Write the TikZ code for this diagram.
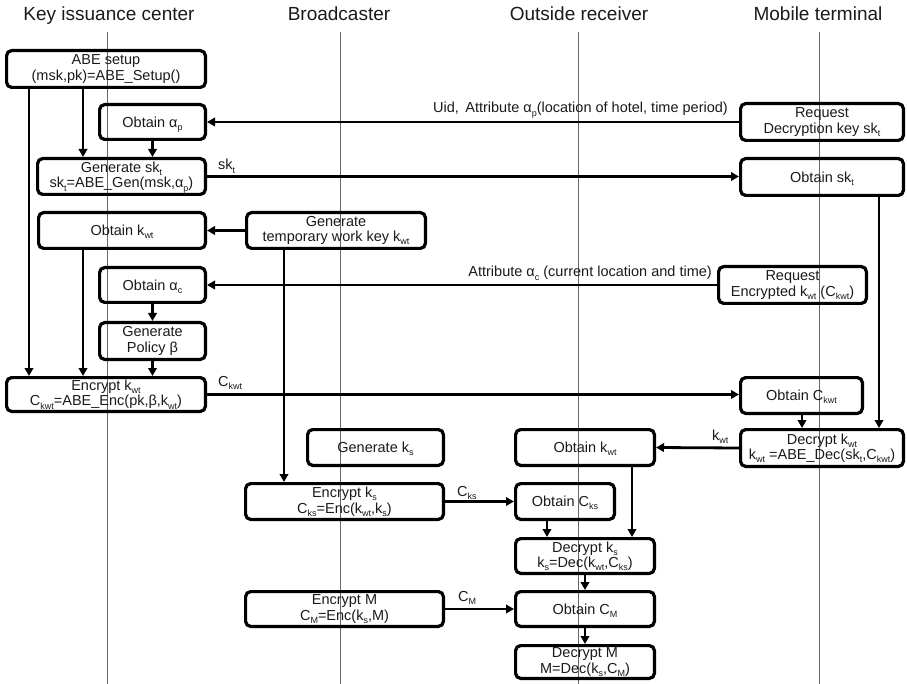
\documentclass[tikz,border=0pt]{standalone}
\usepackage{fontspec}
\setmainfont{Liberation Sans}
\usetikzlibrary{arrows.meta}
% lowered small index, as in k_wt (takes no room of its own)
\newcommand\sbs[1]{\raisebox{-0.4ex}[0pt][0pt]{\fontsize{9}{9}\selectfont #1}}
\definecolor{ink}{HTML}{1A1A1A}
\tikzset{
  x=1pt, y=-1pt,
  box/.style={draw=black, line width=3.2pt, rounded corners=5pt, align=center,
    inner sep=1pt, text=ink, font=\fontsize{14.5}{15.5}\selectfont},
  arr/.style={draw=black, line width=2.8pt, -{Triangle[length=8pt,width=8.5pt]}},
  lbl/.style={inner sep=0pt, text=ink, font=\fontsize{14.5}{15}\selectfont},
  head/.style={inner sep=0pt, text=ink, font=\fontsize{19}{21}\selectfont},
  life/.style={draw=black!60, line width=0.9pt}
}
% box at centre (cx,cy) with outer size w x h
\newcommand\bx[6]{\node[box, minimum width=#4pt-3.2pt, minimum height=#5pt-3.2pt] (#1) at (#2,#3) {#6};}
\begin{document}
\begin{tikzpicture}
\useasboundingbox (0,0) rectangle (907,684);

% column headers and lifelines
\node[head, anchor=base] (hk) at (109,21) {Key issuance center};
\node[head, anchor=base] (hb) at (339,21) {Broadcaster};
\node[head, anchor=base] (ho) at (579,21) {Outside receiver};
\node[head, anchor=base] (hm) at (818,21) {Mobile terminal};
\coordinate (lk) at (107.5,684);
\coordinate (lb) at (340,684);
\coordinate (lo) at (578.5,684);
\coordinate (lm) at (819,684);
\draw[life] (107.5,32) -- (lk);
\draw[life] (340,32) -- (lb);
\draw[life] (578.5,32) -- (lo);
\draw[life] (819,32) -- (lm);

% key issuance center
\bx{setup}{106}{69}{202}{40}{ABE setup\\(msk,pk)=ABE\_Setup()}
\bx{obtp}{152.5}{122}{109}{38}{Obtain α\sbs{p}}
\bx{gensk}{121.5}{176.5}{171}{39}{Generate sk\sbs{t}\\sk\sbs{t}=ABE\_Gen(msk,α\sbs{p})}
\bx{obkwta}{122}{230.5}{170}{39}{Obtain k\sbs{wt}}
\bx{obtc}{152.5}{285}{109}{38}{Obtain α\sbs{c}}
\bx{policy}{152.5}{341}{109}{40}{Generate\\Policy β}
\bx{enckwt}{106}{394.5}{202}{37}{Encrypt k\sbs{wt}\\C\sbs{kwt}=ABE\_Enc(pk,β,k\sbs{wt})}

% broadcaster
\bx{gentmp}{336}{230.5}{182}{39}{Generate\\temporary work key k\sbs{wt}}
\bx{genks}{375.5}{447.5}{139}{39}{Generate k\sbs{s}}
\bx{encks}{344.5}{501.5}{201}{39}{Encrypt k\sbs{s}\\C\sbs{ks}=Enc(k\sbs{wt},k\sbs{s})}
\bx{encm}{344.5}{609}{201}{38}{Encrypt M\\C\sbs{M}=Enc(k\sbs{s},M)}

% mobile terminal
\bx{reqsk}{822}{122}{166}{40}{Request\\Decryption key sk\sbs{t}}
\bx{obsk}{822}{177}{166}{40}{Obtain sk\sbs{t}}
\bx{reqc}{792.5}{285}{151}{40}{Request\\Encrypted k\sbs{wt} (C\sbs{kwt})}
\bx{obckwt}{801.5}{395.5}{125}{39}{Obtain C\sbs{kwt}}
\bx{deckwt}{822}{448}{166}{40}{Decrypt k\sbs{wt}\\k\sbs{wt} =ABE\_Dec(sk\sbs{t},C\sbs{kwt})}

% outside receiver
\bx{obkwtb}{585}{447.5}{142}{39}{Obtain k\sbs{wt}}
\bx{obcks}{565}{501.5}{102}{39}{Obtain C\sbs{ks}}
\bx{decks}{585}{556}{142}{38}{Decrypt k\sbs{s}\\k\sbs{s}=Dec(k\sbs{wt},C\sbs{ks})}
\bx{obcm}{585}{609}{142}{38}{Obtain C\sbs{M}}
\bx{decm}{585}{662}{142}{36}{Decrypt M\\M=Dec(k\sbs{s},C\sbs{M})}

% vertical flows
\draw[arr] (setup.south -| 29,0) -- (enckwt.north -| 29,0);
\draw[arr] (setup.south -| 83,0) -- (gensk.north -| 83,0);
\draw[arr] (obtp.south) -- (obtp.south |- gensk.north);
\draw[arr] (obkwta.south -| 83,0) -- (enckwt.north -| 83,0);
\draw[arr] (obtc.south) -- (policy.north);
\draw[arr] (policy.south) -- (policy.south |- enckwt.north);
\draw[arr] (gentmp.south -| 284,0) -- (encks.north -| 284,0);
\draw[arr] (obsk.south -| 879,0) -- (deckwt.north -| 879,0);
\draw[arr] (obckwt.south -| 802,0) -- (deckwt.north -| 802,0);
\draw[arr] (obkwtb.south -| 632,0) -- (decks.north -| 632,0);
\draw[arr] (obcks.south -| 547,0) -- (decks.north -| 547,0);
\draw[arr] (decks.south) -- (obcm.north);
\draw[arr] (obcm.south) -- (decm.north);

% horizontal messages
\draw[arr] (reqsk.west) -- (obtp.east);
\draw[arr] (gensk.east) -- (gensk.east -| obsk.west);
\draw[arr] (gentmp.west) -- (obkwta.east);
\draw[arr] (reqc.west) -- (obtc.east);
\draw[arr] (enckwt.east) -- (enckwt.east -| obckwt.west);
\draw[arr] (deckwt.west) -- (obkwtb.east);
\draw[arr] (encks.east) -- (obcks.west);
\draw[arr] (encm.east) -- (obcm.west);

% message labels
\node[lbl, anchor=base east] (mreq) at (728,113) {Uid,\, Attribute α\sbs{p}(location of hotel, time period)};
\node[lbl, anchor=base west] (msk) at (218,170) {sk\sbs{t}};
\node[lbl, anchor=base east] (mattr) at (712,277) {Attribute α\sbs{c} (current location and time)};
\node[lbl, anchor=base west] (mckwt) at (218,386) {C\sbs{kwt}};
\node[lbl, anchor=base west] (mkwt) at (712,440) {k\sbs{wt}};
\node[lbl, anchor=base west] (mcks) at (457,496) {C\sbs{ks}};
\node[lbl, anchor=base west] (mcm) at (458,601) {C\sbs{M}};
\end{tikzpicture}
\end{document}
